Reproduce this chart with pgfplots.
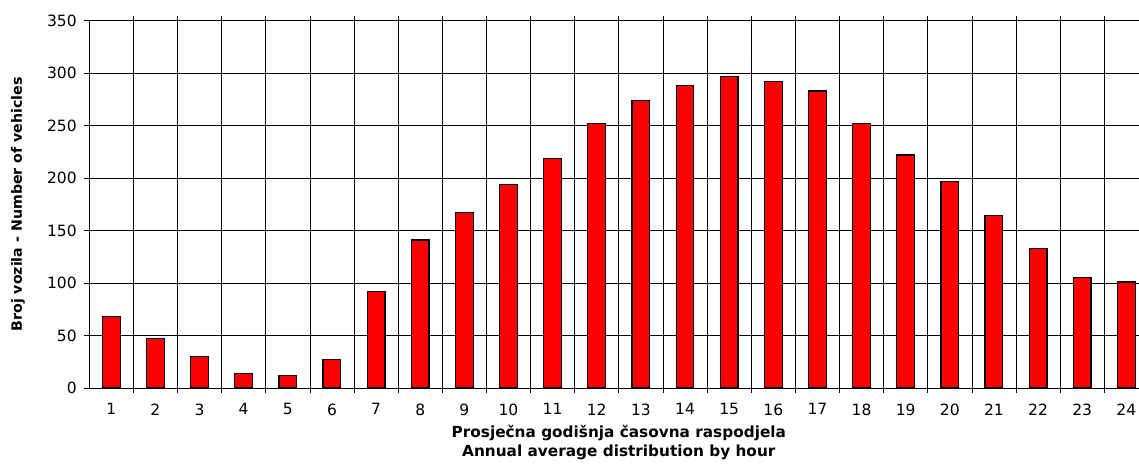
\documentclass[border=0pt]{standalone}
\usepackage{fontspec}
\setmainfont{DejaVu Sans}
\usepackage{pgfplots}
\pgfplotsset{compat=1.18}
\begin{document}
\begin{tikzpicture}
\begin{axis}[
  name=ax,
  at={(0,0)}, anchor=south west,
  scale only axis,
  width=1059.2pt, height=367.3pt,
  xmin=0.5, xmax=24.5, ymin=0, ymax=350,
  ybar, bar width=17.7pt,
  ytick={0,50,...,350},
  xtick={1,...,24},
  minor xtick={1.5,2.5,...,23.5},
  xminorgrids=true, ymajorgrids=true, xmajorgrids=false,
  major grid style={black, line width=0.7pt},
  minor grid style={black, line width=0.7pt},
  tick align=outside,
  major tick length=5pt, minor tick length=5pt,
  tick style={black, line width=0.7pt},
  major x tick style={draw=none},
  axis line style={black, line width=0.8pt},
  /pgf/number format/assume math mode=true,
  yticklabel style={xshift=-4pt, font=\fontsize{15.5}{18}\selectfont},
  xticklabel style={yshift=-7pt, font=\fontsize{15.5}{18}\selectfont},
  every axis y label/.style={at={(axis description cs:0,0.5)}, xshift=-71.2pt, anchor=center, rotate=90, font=\bfseries\fontsize{14.2}{16}\selectfont},
  every axis x label/.style={at={(axis description cs:0.5,0)}, anchor=north, yshift=-34pt, align=center, font=\bfseries\fontsize{15.3}{19}\selectfont},
  ylabel={Broj vozila - Number of vehicles},
  xlabel={Prosječna godišnja časovna raspodjela\\Annual average distribution by hour},
]
\addplot[draw=black, fill=red, line width=1.2pt] coordinates {
(1,68) (2,47) (3,30) (4,14) (5,12) (6,27) (7,92) (8,141) (9,167) (10,194) (11,219) (12,252)
(13,274) (14,288) (15,297) (16,292) (17,283) (18,252) (19,222) (20,197) (21,164) (22,133) (23,105) (24,101)
};
\end{axis}
\pgfresetboundingbox
\path[use as bounding box] ([xshift=-89.2pt,yshift=-76pt]ax.south west) rectangle ([xshift=-9.4pt,yshift=20.7pt]ax.north east);
\end{tikzpicture}
\end{document}
